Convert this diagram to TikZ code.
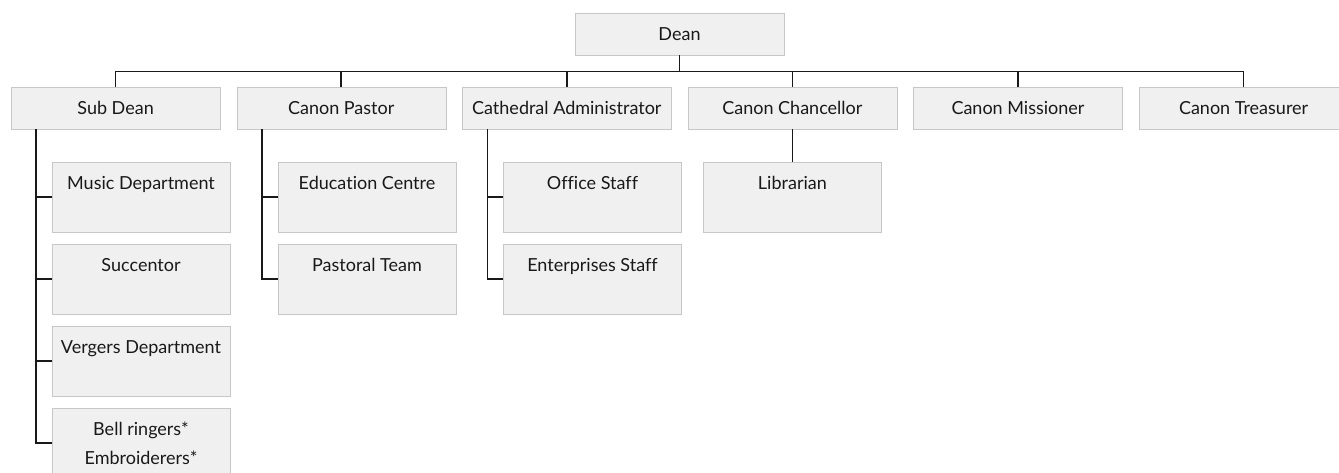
\documentclass[tikz,border=0pt]{standalone}
\usepackage{fontspec}
\setmainfont{Lato}[Ligatures=NoCommon]

\begin{document}
\begin{tikzpicture}[x=1pt, y=-1pt,
  headbox/.style={draw=black!22, fill=black!6, text=black!90, minimum width=209pt, minimum height=42pt, inner sep=0pt, font=\fontsize{18}{29}\selectfont},
  unitbox/.style={draw=black!22, fill=black!6, text=black!90, minimum width=178pt, minimum height=70pt, inner sep=0pt, text height=27pt, text depth=43pt, font=\fontsize{18}{29}\selectfont},
  conn/.style={black!90, line width=1.5pt}]
\useasboundingbox (0,0) rectangle (1339,472);

\node[headbox] (dean) at (679.5,34) {Dean};
\node[headbox] (sub) at (115.6,108) {Sub Dean};
\node[headbox] (pas) at (341.2,108) {Canon Pastor};
\node[headbox] (adm) at (566.8,108) {Cathedral Administrator};
\node[headbox] (cha) at (792.4,108) {Canon Chancellor};
\node[headbox] (mis) at (1018,108) {Canon Missioner};
\node[headbox] (tre) at (1243.6,108) {Canon Treasurer};

\node[unitbox] (mus) at (141,197) {Music Department};
\node[unitbox] (suc) at (141,279) {Succentor};
\node[unitbox] (ver) at (141,361) {Vergers Department};
\node[unitbox, align=center, text height=56pt, text depth=14pt] (bel) at (141,443) {Bell ringers*\\Embroiderers*};
\node[unitbox] (edu) at (367,197) {Education Centre};
\node[unitbox] (pst) at (367,279) {Pastoral Team};
\node[unitbox] (off) at (592.5,197) {Office Staff};
\node[unitbox] (ent) at (592.5,279) {Enterprises Staff};
\node[unitbox] (lib) at (792.4,197) {Librarian};

\foreach \n in {sub,pas,adm,cha,mis,tre}
  \draw[conn] (dean.south) -- ++(0,16.5) -| (\n.north);
\foreach \n in {mus,suc,ver,bel}
  \draw[conn] ([xshift=25pt]sub.south west) |- (\n.west);
\foreach \n in {edu,pst}
  \draw[conn] ([xshift=25.5pt]pas.south west) |- (\n.west);
\foreach \n in {off,ent}
  \draw[conn] ([xshift=25.5pt]adm.south west) |- (\n.west);
\draw[conn] (cha.south) -- (lib.north);

\end{tikzpicture}
\end{document}
